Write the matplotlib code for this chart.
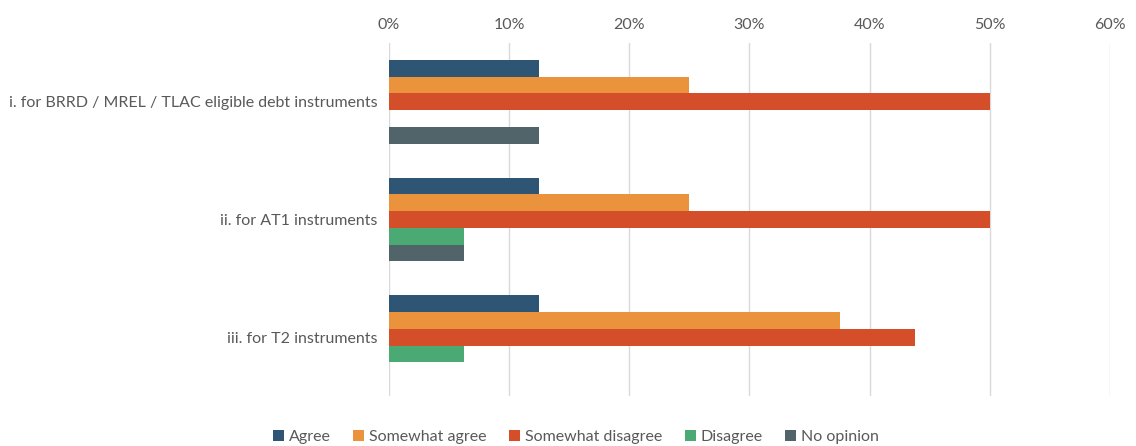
import numpy as np
import matplotlib
matplotlib.use("Agg")
import matplotlib.pyplot as plt
from matplotlib.ticker import PercentFormatter

plt.rcParams['font.family'] = ['Lato', 'DejaVu Sans']

categories = ['i. for BRRD / MREL / TLAC eligible debt instruments',
              'ii. for AT1 instruments',
              'iii. for T2 instruments']
series = ['Agree', 'Somewhat agree', 'Somewhat disagree', 'Disagree', 'No opinion']
agree = [12.5, 12.5, 12.5]
somewhat_agree = [25.0, 25.0, 37.5]
somewhat_disagree = [50.0, 50.0, 43.75]
disagree = [0.0, 6.25, 6.25]
no_opinion = [12.5, 6.25, 0.0]
colors = ['#2E5573', '#EA933C', '#D44E2A', '#4BAA73', '#506469']

values = [agree, somewhat_agree, somewhat_disagree, disagree, no_opinion]

fig = plt.figure(figsize=(11.36, 4.46), dpi=100)
ax = fig.add_axes([0.3424, 0.1121, 0.6347, 0.7915])

y = np.arange(len(categories))
h = 0.142
for k, (name, vals, c) in enumerate(zip(series, values, colors)):
    ax.barh(y + (k - 2) * h, vals, height=h, color=c, label=name, zorder=3)

ax.set_xlim(0, 60)
ax.set_ylim(2.5, -0.5)
ax.set_xticks(np.arange(0, 61, 10))
ax.xaxis.set_major_formatter(PercentFormatter(decimals=0))
ax.xaxis.tick_top()
ax.set_yticks(y)
ax.set_yticklabels(categories)
ax.tick_params(axis='both', length=0, labelsize=11.5, labelcolor='#595959', pad=8)
ax.grid(axis='x', color='#D9D9D9', linewidth=1, zorder=0)
for s in ax.spines.values():
    s.set_visible(False)

fig.legend(loc='lower center', ncol=5, frameon=False, fontsize=11.5,
           labelcolor='#595959', handlelength=0.7, handleheight=0.7,
           handletextpad=0.3, columnspacing=1.4, bbox_to_anchor=(0.507, -0.028))

fig.savefig('out.png', dpi=100)
